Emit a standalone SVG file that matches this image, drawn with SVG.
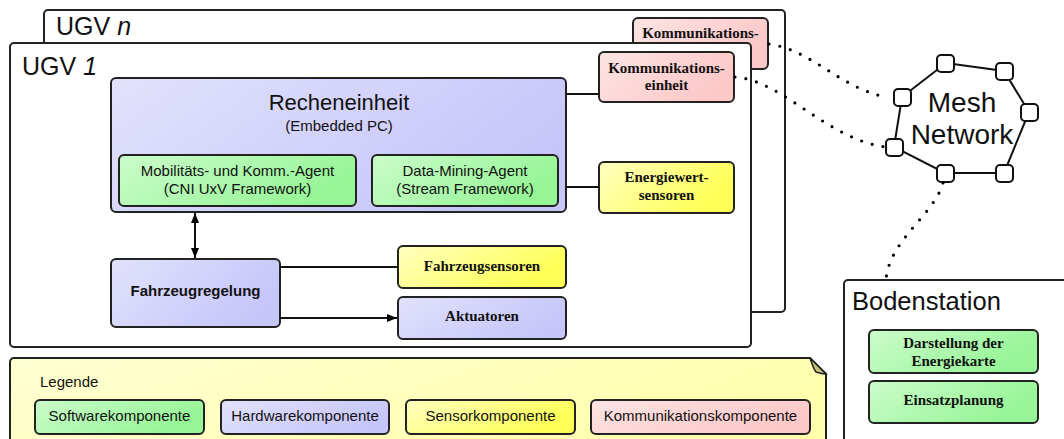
<svg xmlns="http://www.w3.org/2000/svg" width="1064" height="439" viewBox="0 0 1064 439">
  <defs>
    <linearGradient id="gGreen" x1="0" y1="0" x2="1" y2="0.4">
      <stop offset="0" stop-color="#cbfccb"/>
      <stop offset="1" stop-color="#96f596"/>
    </linearGradient>
    <linearGradient id="gBlue" x1="0" y1="0" x2="1" y2="0.4">
      <stop offset="0" stop-color="#e2e2fc"/>
      <stop offset="1" stop-color="#c6c6fa"/>
    </linearGradient>
    <linearGradient id="gYellow" x1="0" y1="0" x2="1" y2="0.4">
      <stop offset="0" stop-color="#ffffc0"/>
      <stop offset="1" stop-color="#ffff55"/>
    </linearGradient>
    <linearGradient id="gPink" x1="0" y1="0" x2="1" y2="0.4">
      <stop offset="0" stop-color="#fde4e4"/>
      <stop offset="1" stop-color="#fdc8c8"/>
    </linearGradient>
    <linearGradient id="gNote" x1="0" y1="0" x2="1" y2="0.3">
      <stop offset="0" stop-color="#ffffd2"/>
      <stop offset="1" stop-color="#ffffae"/>
    </linearGradient>
    <marker id="arrow" viewBox="0 0 10 10" refX="10" refY="5" markerWidth="10" markerHeight="10" markerUnits="userSpaceOnUse" orient="auto-start-reverse">
      <path d="M0,1 L10,5 L0,9 Z" fill="#000"/>
    </marker>
  </defs>
  <style>
    .frame { fill: #fff; stroke: #222; stroke-width: 2; }
    .box { stroke: #222; stroke-width: 2; }
    .green { fill: url(#gGreen); }
    .blue { fill: url(#gBlue); }
    .yellow { fill: url(#gYellow); }
    .pink { fill: url(#gPink); }
    .line { fill: none; stroke: #111; stroke-width: 2; }
    .dots { fill: none; stroke: #000; stroke-width: 3.2; stroke-linecap: round; stroke-dasharray: 0 11; }
    .mnode { fill: #fff; stroke: #111; stroke-width: 2; }
    .sans { font-family: "Liberation Sans", Arial, sans-serif; fill: #111; }
    .serifb { font-family: "Liberation Serif", "Times New Roman", serif; font-weight: bold; font-size: 15px; fill: #111; }
    .big { font-size: 25px; }
    .mid { font-size: 15px; }
    .lg { font-size: 15px; }
  </style>

  <!-- UGV n (back frame) -->
  <g id="ugv-n">
    <rect class="frame" x="44" y="10" width="741" height="302" rx="4"/>
    <text class="sans big" x="56" y="35">UGV <tspan font-style="italic">n</tspan></text>
  </g>
  <g id="komm-n">
    <rect class="box pink" x="633" y="18" width="135" height="51" rx="5"/>
    <text class="serifb" x="700.5" y="38" text-anchor="middle">Kommunikations-</text>
  </g>

  <!-- UGV 1 (front frame) -->
  <g id="ugv-1">
    <rect class="frame" x="10" y="43" width="741" height="304" rx="4"/>
    <text class="sans big" x="22" y="75">UGV <tspan font-style="italic">1</tspan></text>
  </g>

  <g id="recheneinheit">
    <rect class="box blue" x="111" y="78" width="455" height="134" rx="5"/>
    <text class="sans" x="339" y="110" font-size="22" text-anchor="middle">Recheneinheit</text>
    <text class="sans mid" x="339" y="131" text-anchor="middle">(Embedded PC)</text>
  </g>
  <g id="mobilitaets-agent">
    <rect class="box green" x="119" y="155" width="237" height="51" rx="5"/>
    <text class="sans mid" x="237.5" y="176" text-anchor="middle">Mobilitäts- und Komm.-Agent</text>
    <text class="sans mid" x="237.5" y="194" text-anchor="middle">(CNI UxV Framework)</text>
  </g>
  <g id="data-mining-agent">
    <rect class="box green" x="372" y="155" width="186" height="51" rx="5"/>
    <text class="sans mid" x="465" y="176" text-anchor="middle">Data-Mining-Agent</text>
    <text class="sans mid" x="465" y="194" text-anchor="middle">(Stream Framework)</text>
  </g>
  <g id="komm-1">
    <rect class="box pink" x="599" y="52" width="135" height="50" rx="5"/>
    <text class="serifb" x="666.5" y="73" text-anchor="middle">Kommunikations-</text>
    <text class="serifb" x="666.5" y="90" text-anchor="middle">einheit</text>
  </g>
  <g id="energiewertsensoren">
    <rect class="box yellow" x="599" y="162" width="135" height="51" rx="5"/>
    <text class="serifb" x="666.5" y="182" text-anchor="middle">Energiewert-</text>
    <text class="serifb" x="666.5" y="200" text-anchor="middle">sensoren</text>
  </g>
  <g id="fahrzeugregelung">
    <rect class="box blue" x="111" y="259" width="169" height="68" rx="5"/>
    <text class="sans" x="195.5" y="296" font-size="15" font-weight="bold" text-anchor="middle">Fahrzeugregelung</text>
  </g>
  <g id="fahrzeugsensoren">
    <rect class="box yellow" x="398" y="246" width="168" height="42" rx="5"/>
    <text class="serifb" x="482" y="271" text-anchor="middle">Fahrzeugsensoren</text>
  </g>
  <g id="aktuatoren">
    <rect class="box blue" x="398" y="297" width="168" height="42" rx="5"/>
    <text class="serifb" x="482" y="321" text-anchor="middle">Aktuatoren</text>
  </g>

  <!-- Legend note with folded corner -->
  <g id="legende">
    <path class="box" fill="url(#gNote)" d="M14,358 H810 L826,374 V445 H10 V362 A4,4 0 0 1 14,358 Z"/>
    <path d="M810,358 C812,364 814,370 816,372 C819,373 823,374 826,374 Z" fill="#c4c27a" stroke="#222" stroke-width="1.5"/>
    <text class="sans mid" x="40" y="387">Legende</text>
    <rect class="box green" x="35" y="400" width="169" height="34" rx="5"/>
    <text class="sans lg" x="119.5" y="421" text-anchor="middle">Softwarekomponente</text>
    <rect class="box blue" x="221" y="400" width="168" height="34" rx="5"/>
    <text class="sans lg" x="305" y="421" text-anchor="middle">Hardwarekomponente</text>
    <rect class="box yellow" x="406" y="400" width="169" height="34" rx="5"/>
    <text class="sans lg" x="490.5" y="421" text-anchor="middle">Sensorkomponente</text>
    <rect class="box pink" x="591" y="400" width="219" height="34" rx="5"/>
    <text class="sans lg" x="700.5" y="421" text-anchor="middle">Kommunikationskomponente</text>
  </g>

  <!-- Ground station -->
  <g id="bodenstation">
    <rect class="frame" x="844" y="280" width="240" height="180" rx="4"/>
    <text class="sans" x="852" y="310" font-size="25.5">Bodenstation</text>
  </g>
  <g id="energiekarte">
    <rect class="box green" x="869" y="330" width="169" height="43" rx="5"/>
    <text class="serifb" x="953.5" y="348" text-anchor="middle">Darstellung der</text>
    <text class="serifb" x="953.5" y="366" text-anchor="middle">Energiekarte</text>
  </g>
  <g id="einsatzplanung">
    <rect class="box green" x="869" y="381" width="169" height="42" rx="5"/>
    <text class="serifb" x="953.5" y="405" text-anchor="middle">Einsatzplanung</text>
  </g>

  <!-- Mesh network ring -->
  <g id="mesh-network">
    <polygon points="902,97 946,63 1004,71 1029,112 1004,173 945,173 894,147" fill="none" stroke="#111" stroke-width="2"/>
    <rect class="mnode" x="894" y="89" width="17" height="17" rx="4"/>
    <rect class="mnode" x="937" y="55" width="17" height="17" rx="4"/>
    <rect class="mnode" x="996" y="63" width="17" height="17" rx="4"/>
    <rect class="mnode" x="1021" y="104" width="17" height="17" rx="4"/>
    <rect class="mnode" x="996" y="165" width="17" height="17" rx="4"/>
    <rect class="mnode" x="937" y="165" width="17" height="17" rx="4"/>
    <rect class="mnode" x="886" y="139" width="17" height="17" rx="4"/>
    <text class="sans" x="962" y="112" font-size="28" text-anchor="middle">Mesh</text>
    <text class="sans" x="962" y="144" font-size="28" text-anchor="middle">Network</text>
  </g>

  <!-- Connectors -->
  <g id="connectors">
    <line class="line" x1="566" y1="94" x2="599" y2="94"/>
    <line class="line" x1="566" y1="187" x2="599" y2="187"/>
    <line class="line" x1="195" y1="213" x2="195" y2="258" marker-start="url(#arrow)" marker-end="url(#arrow)"/>
    <line class="line" x1="280" y1="267" x2="398" y2="267"/>
    <line class="line" x1="280" y1="318" x2="397" y2="318" marker-end="url(#arrow)"/>
    <path class="dots" d="M769,44 C812,50 840,88 886,97"/>
    <path class="dots" d="M735,77 C782,80 828,140 886,147"/>
    <path class="dots" d="M943,183 C934,215 889,240 886,280"/>
  </g>
</svg>
